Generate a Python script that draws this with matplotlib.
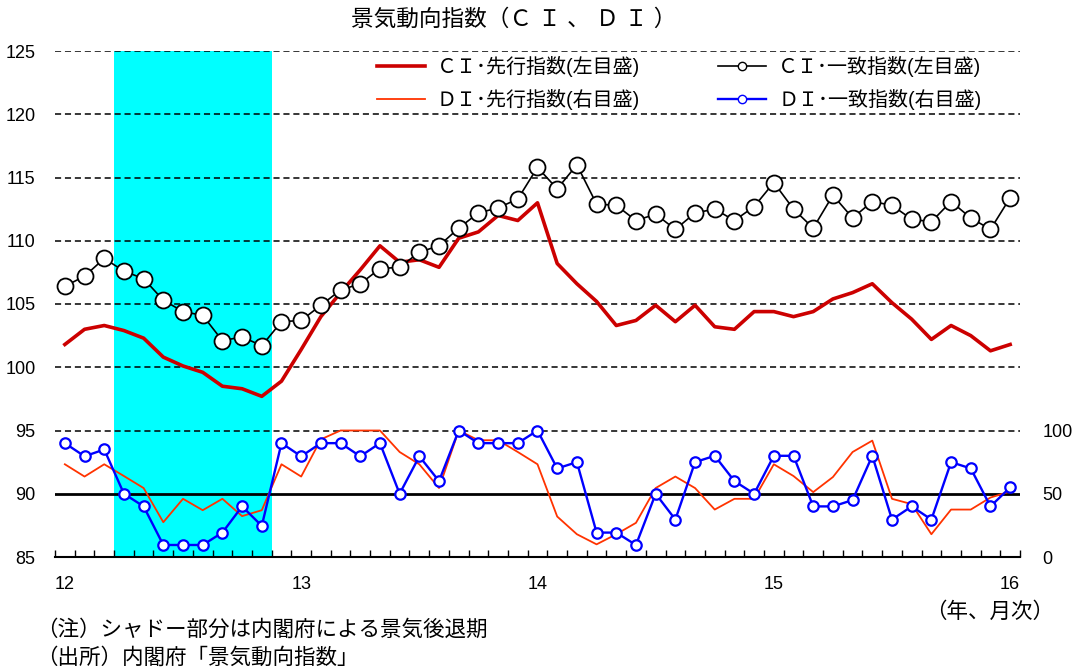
import numpy as np
import matplotlib
matplotlib.use("Agg")
import matplotlib.pyplot as plt
from matplotlib.lines import Line2D

plt.rcParams['font.family'] = ['Liberation Sans', 'Noto Sans CJK JP']

# monthly data, Jan 2012 .. Jan 2016
year_labels = ['12', '13', '14', '15', '16']
recession = (3, 10)  # Apr 2012 - Nov 2012 (month index)

ci_lead = [101.8, 103.0, 103.3, 102.9, 102.3, 100.8, 100.1, 99.6, 98.5, 98.3,
           97.7, 98.9, 101.4, 104.0, 105.9, 107.7, 109.6, 108.3, 108.5, 107.9,
           110.2, 110.7, 112.0, 111.6, 113.0, 108.2, 106.6, 105.2, 103.3, 103.7,
           104.9, 103.6, 104.9, 103.2, 103.0, 104.4, 104.4, 104.0, 104.4, 105.4,
           105.9, 106.6, 105.1, 103.8, 102.2, 103.3, 102.5, 101.3, 101.8]

ci_coin = [106.4, 107.2, 108.6, 107.6, 107.0, 105.3, 104.4, 104.1, 102.1, 102.4,
           101.7, 103.6, 103.7, 104.9, 106.1, 106.6, 107.8, 107.9, 109.1, 109.6,
           111.0, 112.2, 112.6, 113.3, 115.8, 114.1, 116.0, 112.9, 112.8, 111.6,
           112.1, 110.9, 112.2, 112.5, 111.6, 112.7, 114.6, 112.5, 111.0, 113.6,
           111.8, 113.1, 112.8, 111.7, 111.5, 113.1, 111.8, 110.9, 113.4]

di_lead = [73.3, 63.6, 73.3, 64.0, 54.5, 27.5, 46.0, 37.0, 46.0, 32.3,
           37.0, 73.3, 63.6, 93.0, 100.0, 100.0, 100.0, 83.0, 73.3, 54.5,
           100.0, 92.3, 92.3, 83.0, 73.3, 32.0, 18.0, 10.0, 18.0, 27.0,
           54.5, 63.6, 54.5, 37.5, 46.0, 46.0, 73.3, 64.0, 51.3, 63.2,
           83.0, 92.0, 46.0, 41.8, 18.0, 37.5, 37.5, 47.0, 51.8]

di_coin = [90.0, 79.6, 85.0, 50.0, 40.0, 9.5, 9.5, 9.5, 19.3, 40.0,
           24.6, 90.0, 79.6, 90.0, 90.0, 79.6, 90.0, 50.0, 79.6, 60.0,
           100.0, 90.0, 90.0, 90.0, 100.0, 70.0, 75.0, 19.3, 19.3, 9.5,
           50.0, 29.6, 75.0, 80.0, 60.0, 50.0, 80.0, 80.0, 40.0, 40.0,
           45.0, 80.0, 29.6, 40.0, 29.6, 75.0, 70.0, 40.0, 55.0]

x = np.arange(len(ci_lead))

W, H = 1076, 668
fig = plt.figure(figsize=(W / 100, H / 100), dpi=100)
ax = fig.add_axes([55 / W, 1 - 557 / H, (1020 - 55) / W, (557 - 51) / H])

ax.set_xlim(-0.5, len(x) - 0.5)
ax.set_ylim(85, 125)

# shaded recession
ax.axvspan(recession[0] - 0.5, recession[1] + 0.5, color='#00FFFF', lw=0, zorder=0)

# grid
for yv in range(95, 126, 5):
    ax.axhline(yv, color='black', lw=1.1, ls=(0, (4, 2.5)), zorder=1)
ax.axhline(90, color='black', lw=2, zorder=1)

ax.plot(x, ci_lead, color='#CC0000', lw=2.6, zorder=3)
ax.plot(x, ci_coin, color='black', lw=1.2, marker='o', ms=11.5,
        mfc='white', mec='black', mew=1.3, zorder=4)

for s in ['left', 'right', 'top']:
    ax.spines[s].set_visible(False)
ax.spines['bottom'].set_linewidth(1.5)

ax.set_xticks(np.arange(0, len(x), 12))
ax.set_xticklabels(year_labels)
ax.set_xticks(np.arange(-0.5, len(x), 1), minor=True)
ax.tick_params(axis='x', which='major', length=0, pad=14, labelsize=13)
ax.tick_params(axis='x', which='minor', direction='in', length=5, width=1)
ax.set_yticks(range(85, 126, 5))
ax.tick_params(axis='y', length=0, pad=14, labelsize=13)

# DI on right axis
ax2 = ax.twinx()
ax2.set_ylim(0, 400)
ax2.plot(x, di_lead, color='#FF3300', lw=1.3, zorder=3)
ax2.plot(x, di_coin, color='#0000FF', lw=1.7, marker='o', ms=7.5,
         mfc='white', mec='#0000FF', mew=1.6, zorder=4)
for s in ['left', 'right', 'top', 'bottom']:
    ax2.spines[s].set_visible(False)
ax2.set_yticks([0, 50, 100])
ax2.tick_params(axis='y', length=0, pad=16, labelsize=13)

handles = [
    Line2D([], [], color='#CC0000', lw=2.6),
    Line2D([], [], color='#FF3300', lw=1.3),
    Line2D([], [], color='black', lw=1.2, marker='o', ms=6, mfc='white', mec='black'),
    Line2D([], [], color='#0000FF', lw=1.7, marker='o', ms=6, mfc='white', mec='#0000FF'),
]
labels = ['ＣＩ･先行指数(左目盛)', 'ＤＩ･先行指数(右目盛)',
          'ＣＩ･一致指数(左目盛)', 'ＤＩ･一致指数(右目盛)']
fig.legend(handles, labels, ncol=2, frameon=False, loc='upper left',
           bbox_to_anchor=(377 / W, 1 - 56 / H), borderaxespad=0, borderpad=0,
           fontsize=14.4, handlelength=2.4, handletextpad=0.6,
           columnspacing=3.9, labelspacing=0.58)

fig.text(514 / W, 1 - 19 / H, '景気動向指数（Ｃ Ｉ 、 Ｄ Ｉ ）', ha='center', va='center',
         fontsize=16.3)
fig.text(990 / W, 1 - 612 / H, '（年、月次）', ha='center', va='center', fontsize=15.5)
fig.text(36 / W, 1 - 630 / H, '（注）シャドー部分は内閣府による景気後退期',
         ha='left', va='center', fontsize=15.5)
fig.text(36 / W, 1 - 658 / H, '（出所）内閣府「景気動向指数」',
         ha='left', va='center', fontsize=15.5)

fig.savefig('out.png', dpi=100)
